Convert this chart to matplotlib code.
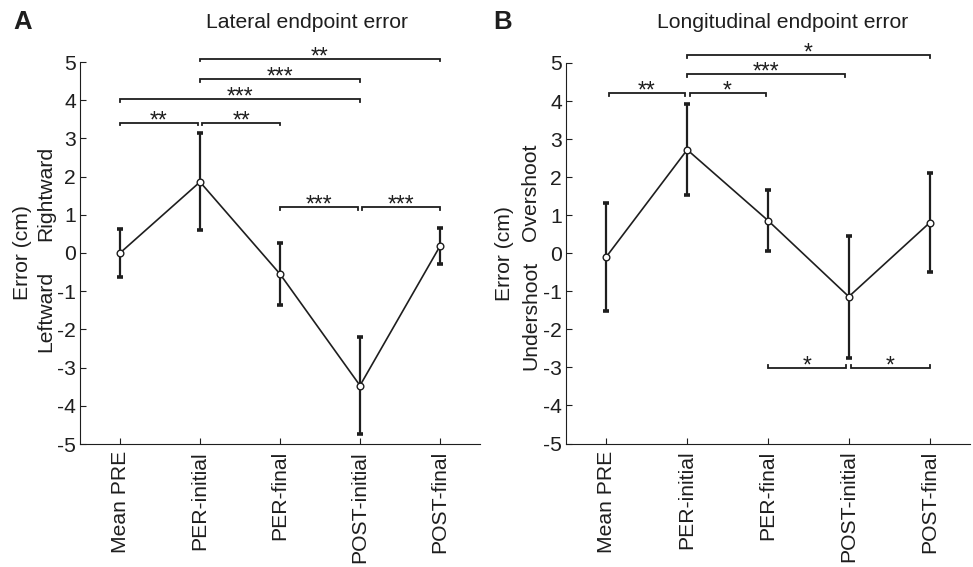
import matplotlib
matplotlib.use("Agg")
import matplotlib.pyplot as plt
import numpy as np

plt.rcParams['font.family'] = ['Liberation Sans', 'DejaVu Sans']
plt.rcParams['axes.unicode_minus'] = False

categories = ["Mean PRE", "PER-initial", "PER-final", "POST-initial", "POST-final"]

lat_mean = [0.00, 1.86, -0.55, -3.47, 0.18]
lat_err = [0.63, 1.27, 0.82, 1.27, 0.47]

lon_mean = [-0.09, 2.72, 0.86, -1.14, 0.80]
lon_err = [1.42, 1.20, 0.81, 1.60, 1.30]

# significance comparisons: (x-start, x-end, bracket level, label, direction)
lat_sig = [(1.0, 1.97, 3.41, "**", 1), (2.03, 3.0, 3.41, "**", 1),
           (1.0, 4.0, 4.03, "***", 1), (2.0, 4.0, 4.55, "***", 1),
           (2.0, 5.0, 5.09, "**", 1), (3.0, 3.97, 1.20, "***", 1),
           (4.03, 5.0, 1.20, "***", 1)]
lon_sig = [(1.03, 1.97, 4.21, "**", 1), (2.03, 2.97, 4.21, "*", 1),
           (2.0, 3.95, 4.70, "***", 1), (2.0, 5.0, 5.21, "*", 1),
           (3.0, 3.97, -3.02, "*", -1), (4.03, 5.0, -3.02, "*", -1)]

C = '#1e1e1e'
FS = 15.2
fig = plt.figure(figsize=(9.73, 5.67), dpi=100)
axA = fig.add_axes([80/973, 1-444/567, 400/973, 382/567])
axB = fig.add_axes([566/973, 1-443.5/567, 404/973, 380.5/567])


def draw(ax, mean, err, sig):
    x = np.arange(1, len(mean)+1)
    ax.errorbar(x, mean, yerr=err, fmt='none', ecolor=C, elinewidth=1.6,
                capsize=2.2, capthick=2.6, zorder=2)
    ax.plot(x, mean, '-', color=C, lw=1.2, zorder=3)
    ax.plot(x, mean, 'o', mfc='white', mec=C, mew=1.0, ms=4.8, zorder=4)
    ax.set_xlim(0.5, 5.5)
    ax.set_ylim(-5, 5)
    ax.set_yticks(range(-5, 6))
    ax.set_xticks(x)
    ax.set_xticklabels(categories, rotation=90)
    ax.tick_params(direction='in', length=4, width=0.8, colors=C, labelsize=FS, pad=3)
    ax.tick_params(axis='x', pad=5)
    for s in ['top', 'right']:
        ax.spines[s].set_visible(False)
    for s in ['left', 'bottom']:
        ax.spines[s].set_linewidth(0.8)
        ax.spines[s].set_color(C)
    d = 0.07
    for x1, x2, y, lab, dr in sig:
        ax.plot([x1, x1, x2, x2], [y - d*dr, y, y, y - d*dr], color=C, lw=1.3,
                clip_on=False, solid_joinstyle='miter')
        ax.text((x1+x2)/2, y - 0.12, lab, ha='center', va='baseline', fontsize=16.5,
                color=C, clip_on=False)


draw(axA, lat_mean, lat_err, lat_sig)
draw(axB, lon_mean, lon_err, lon_sig)

# y labels
axA.text(-0.145, 0.5, "Error (cm)", transform=axA.transAxes, rotation=90,
         ha='center', va='center', fontsize=FS, color=C)
axA.text(-0.085, 1.55, "Rightward", transform=axA.get_yaxis_transform(), rotation=90,
         ha='center', va='center', fontsize=FS, color=C)
axA.text(-0.085, -1.52, "Leftward", transform=axA.get_yaxis_transform(), rotation=90,
         ha='center', va='center', fontsize=FS, color=C)

axB.text(-0.153, 0.5, "Error (cm)", transform=axB.transAxes, rotation=90,
         ha='center', va='center', fontsize=FS, color=C)
axB.text(-0.088, 1.6, "Overshoot", transform=axB.get_yaxis_transform(), rotation=90,
         ha='center', va='center', fontsize=FS, color=C)
axB.text(-0.088, -1.62, "Undershoot", transform=axB.get_yaxis_transform(), rotation=90,
         ha='center', va='center', fontsize=FS, color=C)

fig.text(307/973, 1-23/567, "Lateral endpoint error", ha='center', va='center',
         fontsize=FS, color=C)
fig.text(783/973, 1-23/567, "Longitudinal endpoint error", ha='center', va='center',
         fontsize=FS, color=C)
fig.text(13/973, 1-22/567, "A", ha='left', va='center', fontsize=18.5, fontweight='bold', color=C)
fig.text(493/973, 1-22/567, "B", ha='left', va='center', fontsize=18.5, fontweight='bold', color=C)

fig.savefig("out.png", dpi=100)
